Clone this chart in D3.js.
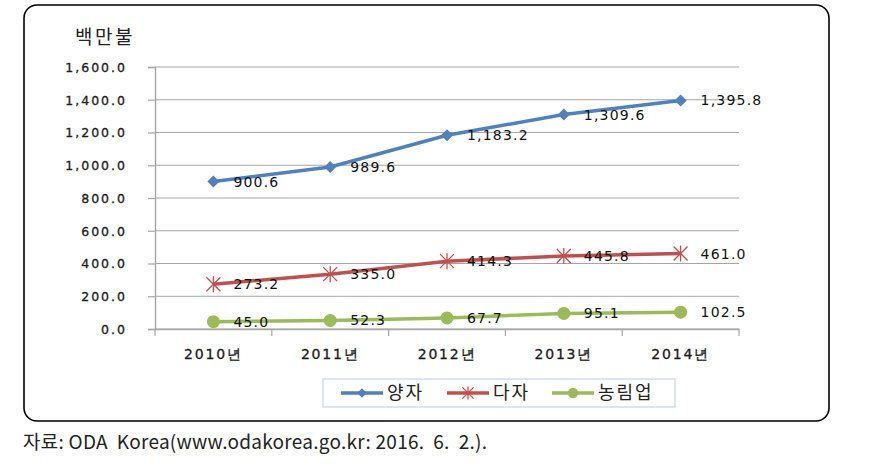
<!DOCTYPE html>
<html><head><meta charset="utf-8">
<script src="https://cdn.jsdelivr.net/npm/d3@7"></script>
<style>body{margin:0;background:#fff;}svg{display:block;}</style>
</head><body>
<svg id="c" width="885" height="470"></svg>
<script>
const categories = ["2010년","2011년","2012년","2013년","2014년"];
const seriesNames = ["양자","다자","농림업"];
const bilateral = [900.6, 989.6, 1183.2, 1309.6, 1395.8];
const multilateral = [273.2, 335.0, 414.3, 445.8, 461.0];
const agriculture = [45.0, 52.3, 67.7, 95.1, 102.5];
const yTicks = [0,200,400,600,800,1000,1200,1400,1600];
const unitLabel = "백만불";
const sourceText = "자료: ODA  Korea(www.odakorea.go.kr: 2016.  6.  2.).";

const colors = ["#4F81BD","#C0504D","#9BBB59"];
const series = [bilateral, multilateral, agriculture];
const svg = d3.select("#c");
const numFont = "'DejaVu Sans', Verdana, sans-serif";
const krFont = "'Noto Sans CJK KR', sans-serif";

// outer frame
svg.append("rect").attr("x",24).attr("y",5).attr("width",805).attr("height",416)
  .attr("rx",13).attr("fill","none").attr("stroke","#000").attr("stroke-width",1.6);

const x = d3.scaleBand().domain(categories).range([155,739]);
const y = d3.scaleLinear().domain([0,1600]).range([329,67]);

// gridlines
svg.append("g").selectAll("line").data(yTicks).join("line")
  .attr("x1",155).attr("x2",739).attr("y1",d=>y(d)).attr("y2",d=>y(d))
  .attr("stroke","#a6a6a6").attr("stroke-width",1.2);

// y axis
const yAxis = svg.append("g").attr("transform","translate(155,0)")
  .call(d3.axisLeft(y).tickValues(yTicks).tickFormat(d3.format(",.1f")).tickSize(7).tickPadding(21));
yAxis.select(".domain").attr("stroke","#a6a6a6").attr("stroke-width",1.4);
yAxis.selectAll(".tick line").attr("stroke","#a6a6a6").attr("stroke-width",1.2);
yAxis.selectAll("text").attr("font-family",numFont).attr("font-size",12.5).attr("fill","#1a1a1a")
  .attr("letter-spacing","2px").attr("stroke","#1a1a1a").attr("stroke-width",0.3).attr("dy","0.35em");

// x axis
const xAxis = svg.append("g").attr("transform","translate(0,329)")
  .call(d3.axisBottom(x).tickSize(0).tickPadding(20));
xAxis.select(".domain").attr("stroke","#a6a6a6").attr("stroke-width",1.4);
xAxis.selectAll("text").attr("font-family",numFont).attr("font-size",14).attr("fill","#1a1a1a")
  .attr("stroke","#1a1a1a").attr("stroke-width",0.3).attr("letter-spacing","1.8px");
// band boundary ticks
const bounds = categories.map(c=>x(c)).concat([x.range()[1]]);
svg.append("g").selectAll("line").data(bounds).join("line")
  .attr("x1",d=>d).attr("x2",d=>d).attr("y1",329).attr("y2",336)
  .attr("stroke","#a6a6a6").attr("stroke-width",1.2);

const cx = c => x(c) + x.bandwidth()/2;
const line = d3.line().x((d,i)=>cx(categories[i])).y(d=>y(d));

function drawMarker(g, type, color, px, py, scale){
  scale = scale || 1;
  if(type===0){
    const s=6*scale;
    g.append("path").attr("d",`M${px},${py-s}L${px+s},${py}L${px},${py+s}L${px-s},${py}Z`).attr("fill",color);
  } else if(type===1){
    const s=7*scale;
    const p = `M${px-s},${py-s}L${px+s},${py+s}M${px-s},${py+s}L${px+s},${py-s}M${px},${py-s-1}L${px},${py+s+1}`;
    g.append("path").attr("d",p).attr("stroke",color).attr("stroke-width",1.3).attr("fill","none");
  } else {
    g.append("circle").attr("cx",px).attr("cy",py).attr("r",6.5*scale).attr("fill",color);
  }
}

series.forEach((vals,si)=>{
  const g = svg.append("g");
  g.append("path").datum(vals).attr("d",line).attr("fill","none")
    .attr("stroke",colors[si]).attr("stroke-width",3.5).attr("stroke-linejoin","round");
  vals.forEach((v,i)=>drawMarker(g, si, colors[si], cx(categories[i]), y(v)));
  g.selectAll("text").data(vals).join("text")
    .attr("x",(d,i)=>cx(categories[i])+20).attr("y",d=>y(d)).attr("dy","0.36em")
    .attr("font-family",numFont).attr("font-size",14).attr("letter-spacing","1.2px")
    .attr("fill","#111").text(d=>d3.format(",.1f")(d));
});

// unit label
svg.append("text").attr("x",75).attr("y",44).attr("font-family",krFont).attr("font-size",19)
  .attr("letter-spacing","2.5px").attr("fill","#222").text(unitLabel);

// legend
const lg = svg.append("g");
lg.append("rect").attr("x",323).attr("y",379).attr("width",352).attr("height",28)
  .attr("fill","#fff").attr("stroke","#c9d3e6").attr("stroke-width",1.2);
const legX = [341,447,552];
seriesNames.forEach((n,i)=>{
  const lx = legX[i], ly = 393;
  lg.append("line").attr("x1",lx).attr("x2",lx+42).attr("y1",ly).attr("y2",ly)
    .attr("stroke",colors[i]).attr("stroke-width",3.5);
  drawMarker(lg, i, colors[i], lx+21, ly, 0.8);
  lg.append("text").attr("x",lx+46).attr("y",ly).attr("dy","0.36em")
    .attr("font-family",krFont).attr("font-size",18).attr("letter-spacing","2px")
    .attr("fill","#222").text(n);
});

// source
svg.append("text").attr("x",23).attr("y",449).attr("font-family",krFont).attr("font-size",19)
  .attr("fill","#222").attr("xml:space","preserve").style("white-space","pre")
  .attr("textLength",464).attr("lengthAdjust","spacing").text(sourceText);
</script>
</body></html>
